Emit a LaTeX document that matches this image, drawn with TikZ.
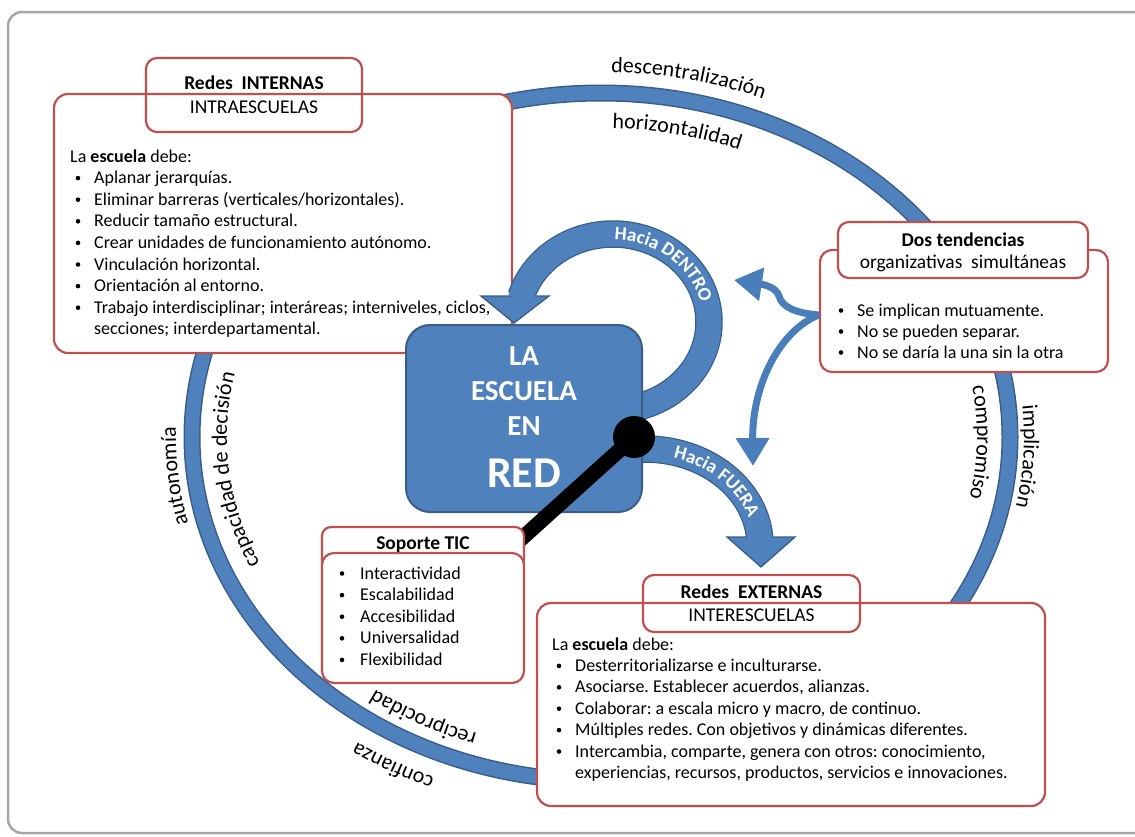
\documentclass[tikz,border=0pt]{standalone}
\usepackage{fontspec}
\setmainfont{Carlito}
\usetikzlibrary{arrows.meta, decorations.text}

\definecolor{accblue}{HTML}{4F81BD}
\definecolor{accedge}{HTML}{385D8A}
\definecolor{linkblue}{HTML}{4A7EBB}
\definecolor{boxred}{HTML}{C0504D}
\definecolor{framegray}{HTML}{A6A6A6}

\newcommand\bodyfont{\fontsize{18}{21.6}\selectfont}
\newcommand\headfont{\fontsize{19.5}{22}\selectfont}
\newcommand\ringfont{\fontsize{22}{26}\selectfont}
\newcommand\bandfont{\color{white}\bfseries\fontsize{19}{22}\selectfont}
\frenchspacing

\begin{document}
\begin{tikzpicture}[
  x=1pt, y=-1pt,
  frame/.style={draw=framegray, line width=2.5pt, rounded corners=14pt},
  redbox/.style={draw=boxred, line width=2.2pt, fill=white, rounded corners=14pt, inner sep=0pt},
  redcap/.style={draw=boxred, line width=2.2pt, rounded corners=11pt, inner sep=0pt},
  hub/.style={draw=accedge, line width=2pt, fill=accblue, rounded corners=24pt, inner sep=0pt},
  hubtxt/.style={text=white, font=\bfseries\fontsize{29}{30}\selectfont, anchor=base, inner sep=0pt},
  txt/.style={font=\bodyfont, anchor=base west, inner sep=0pt},
  ttl/.style={font=\headfont, anchor=base, inner sep=0pt},
  dotm/.style={circle, fill=black, minimum size=4.6pt, inner sep=0pt},
  bandedge/.style={draw=accedge, line width=27.5pt},
  bandfill/.style={draw=accblue, line width=25pt},
  head/.style={fill=accblue, draw=accedge, line width=1.3pt},
  link/.style={draw=linkblue, line width=7pt, -{Triangle[length=28pt, width=32pt]}},
  ringlbl/.style={decorate, decoration={text along path, text align=center, text={|\ringfont|#1}}},
  bandlbl/.style={decorate, decoration={text along path, text align=center, text={|\bandfont|#1}}},
]
  \useasboundingbox (0,0) rectangle (1135,836);
  \clip (0,0) rectangle (1135,836);
  \draw[frame] (8,12) rectangle (1160,833);

  % big ring
  \draw[accedge, line width=17pt] (601,437) ellipse [x radius=409, y radius=344];
  \draw[accblue, line width=14pt] (601,437) ellipse [x radius=409, y radius=344];

  % words round the ring
  \path[ringlbl=descentralización] (601,437) ++(-103:430 and 365) arc[start angle=-103, end angle=-53, x radius=430, y radius=365];
  \path[ringlbl=horizontalidad] (601,437) ++(-103:374 and 309) arc[start angle=-103, end angle=-53, x radius=374, y radius=309];
  \path[ringlbl=autonomía] (601,437) ++(149:425 and 360) arc[start angle=149, end angle=199, x radius=425, y radius=360];
  \path[ringlbl=capacidad de decisión] (601,437) ++(144:374 and 309) arc[start angle=144, end angle=204, x radius=374, y radius=309];
  \path[ringlbl=compromiso] (601,437) ++(-24:376 and 311) arc[start angle=-24, end angle=26, x radius=376, y radius=311];
  \path[ringlbl=implicación] (601,437) ++(-22:423 and 358) arc[start angle=-22, end angle=28, x radius=423, y radius=358];
  \path[ringlbl=reciprocidad] (601,437) ++(93:379 and 314) arc[start angle=93, end angle=144, x radius=379, y radius=314];
  \path[ringlbl=confianza] (601,437) ++(94:434 and 369) arc[start angle=94, end angle=144, x radius=434, y radius=369];

  % Redes INTERNAS
  \node[redbox, minimum width=458pt, minimum height=259pt] (inBox) at (283,223.5) {};
  \node[redcap, minimum width=216pt, minimum height=74pt] (inCap) at (254,95) {};
  \node[ttl, font=\headfont\bfseries] (inHead) at (254,89) {Redes\ \ INTERNAS};
  \node[ttl] (inSub) at (254,113) {INTRAESCUELAS};
  \node[txt] (inLead) at (70,162) {La \textbf{escuela} debe:};
  \foreach \itm [count=\i] in {Aplanar jerarquías., {Eliminar barreras (verticales/horizontales).}, Reducir tamaño estructural., Crear unidades de funcionamiento autónomo., Vinculación horizontal., Orientación al entorno., {Trabajo interdisciplinar; interáreas; interniveles, ciclos,}}{
    \node[dotm] (inDot\i) at (78,{156.5+21.6*\i}) {};
    \node[txt] (inItem\i) at (94,{162+21.6*\i}) {\itm};
  }
  \node[txt] (inItemEnd) at (94,334.8) {secciones; interdepartamental.};

  % Redes EXTERNAS
  \node[redbox, minimum width=508pt, minimum height=203pt] (exBox) at (791,704.5) {};
  \node[redcap, minimum width=217pt, minimum height=57pt] (exCap) at (751.5,603.5) {};
  \node[ttl, font=\headfont\bfseries] (exHead) at (751.5,598) {Redes\ \ EXTERNAS};
  \node[ttl] (exSub) at (751.5,621) {INTERESCUELAS};
  \node[txt] (exLead) at (552,650) {La \textbf{escuela} debe:};
  \foreach \itm [count=\i] in {Desterritorializarse e inculturarse., {Asociarse. Establecer acuerdos, alianzas.}, {Colaborar: a escala micro y macro, de continuo.}, Múltiples redes. Con objetivos y dinámicas diferentes., {Intercambia, comparte, genera con otros: conocimiento,}}{
    \node[dotm] (exDot\i) at (559,{644.5+21.4*\i}) {};
    \node[txt] (exItem\i) at (575,{650+21.4*\i}) {\itm};
  }
  \node[txt] (exItemEnd) at (575,778.4) {experiencias, recursos, productos, servicios e innovaciones.};

  % Dos tendencias
  \node[redbox, rounded corners=12pt, minimum width=288pt, minimum height=122pt] (tendBox) at (964,311) {};
  \node[redbox, rounded corners=11pt, minimum width=250pt, minimum height=56pt] (tendCap) at (963,250) {};
  \node[ttl, font=\headfont\bfseries] (tendHead) at (963,246) {Dos tendencias};
  \node[ttl] (tendSub) at (963,268) {organizativas\ \ simultáneas};
  \foreach \itm [count=\i] in {Se implican mutuamente., No se pueden separar., No se daría la una sin la otra}{
    \node[dotm] (tendDot\i) at (841,{289.5+21*\i}) {};
    \node[txt] (tendItem\i) at (857,{295+21*\i}) {\itm};
  }
  \coordinate (tendOut) at ([yshift=-4pt]tendBox.west);
  \coordinate (inTip) at (734,280);
  \coordinate (outTip) at (753,466);
  \draw[link] (tendOut) .. controls (795,313) and (782,307) .. (779,296) .. controls (776,286) and (760,284) .. (inTip);
  \draw[link] (tendOut) .. controls (780,330) and (752,385) .. (outTip);

  % Hacia DENTRO
  \draw[bandedge] (613,322) ++(80:96 and 88) arc[start angle=80, end angle=-163, x radius=96, y radius=88];
  \draw[head] (481,296) -- (514,323) -- (549,296) -- cycle;
  \draw[bandfill] (613,322) ++(80:96 and 88) arc[start angle=80, end angle=-165, x radius=96, y radius=88];
  \path[bandlbl=Hacia DENTRO] (613,322) ++(-95:90 and 82) arc[start angle=-95, end angle=-7, x radius=90, y radius=82];

  % Hacia FUERA
  \draw[bandedge] (645,545) ++(-100:115 and 96) arc[start angle=-100, end angle=-4, x radius=115, y radius=96];
  \draw[head] (727,537) -- (761,567) -- (795,537) -- cycle;
  \draw[bandfill] (645,545) ++(-100:115 and 96) arc[start angle=-100, end angle=-1, x radius=115, y radius=96];
  \path[bandlbl=Hacia FUERA] (645,545) ++(-88:109 and 90) arc[start angle=-88, end angle=-2, x radius=109, y radius=90];

  % La escuela en red
  \node[hub, minimum width=236pt, minimum height=187pt] (hub) at (524,418.5) {};
  \node[hubtxt] (hubLA) at (524,365) {LA};
  \node[hubtxt] (hubES) at (524,400) {ESCUELA};
  \node[hubtxt] (hubEN) at (524,435) {EN};
  \node[hubtxt, font=\bfseries\fontsize{44}{46}\selectfont] (hubRED) at (524,487) {RED};

  % soporte
  \coordinate (dotC) at (634,437);
  \coordinate (ticEnd) at (520,540);
  \draw[black, line width=15pt] (dotC) -- (ticEnd);
  \node[circle, fill=black, minimum size=42pt, inner sep=0pt] (dot) at (dotC) {};

  \node[redbox, rounded corners=9pt, minimum width=202pt, minimum height=43pt] (ticCap) at (423,548.5) {};
  \node[redbox, rounded corners=12pt, minimum width=202pt, minimum height=130pt] (ticBox) at (423,618) {};
  \node[ttl, font=\headfont\bfseries] (ticHead) at (423,549) {Soporte TIC};
  \foreach \itm [count=\i] in {Interactividad, Escalabilidad, Accesibilidad, Universalidad, Flexibilidad}{
    \node[dotm] (ticDot\i) at (342,{551.9+21.6*\i}) {};
    \node[txt] (ticItem\i) at (360,{557.4+21.6*\i}) {\itm};
  }
\end{tikzpicture}
\end{document}
